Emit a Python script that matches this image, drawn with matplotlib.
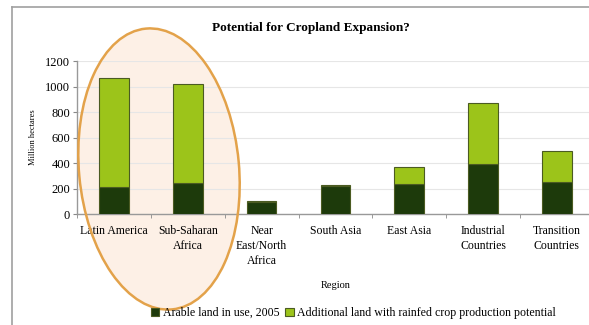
import numpy as np
import matplotlib
matplotlib.use("Agg")
import matplotlib.pyplot as plt
from matplotlib.patches import Ellipse
from matplotlib.lines import Line2D

regions = ["Latin America", "Sub-Saharan\nAfrica", "Near\nEast/North\nAfrica",
           "South Asia", "East Asia", "Industrial\nCountries", "Transition\nCountries"]
arable_2005 = [212, 245, 95, 220, 238, 392, 248]
total_potential = [1067, 1020, 105, 225, 366, 873, 494]
additional = [t - a for t, a in zip(total_potential, arable_2005)]
yticks = [0, 200, 400, 600, 800, 1000, 1200]

plt.rcParams["font.family"] = ["Liberation Serif", "DejaVu Serif"]

DARK = "#1d3a0b"
LIGHT = "#9cc41a"
EDGE = "#4b5b22"

fig = plt.figure(figsize=(5.89, 3.25), dpi=100)
ax = fig.add_axes([0.131, 0.3415, 0.877, 0.4708])
ax.set_facecolor("none")

x = np.arange(len(regions))
ax.bar(x, arable_2005, width=0.4, color=DARK, edgecolor=EDGE, linewidth=0.8, zorder=3,
       label="Arable land in use, 2005")
ax.bar(x, additional, width=0.4, bottom=arable_2005, color=LIGHT, edgecolor=EDGE,
       linewidth=0.8, zorder=3, label="Additional land with rainfed crop production potential")

ax.set_xlim(-0.5, len(regions) - 0.5)
ax.set_ylim(0, 1200)
ax.set_yticks(yticks)
ax.set_yticklabels([str(v) for v in yticks], fontsize=9)
ax.yaxis.grid(True, color="#e6e6e6", linewidth=0.8, zorder=0)
ax.axhline(1200, color="#b0b0b0", linewidth=1.2, zorder=1)

ax.set_xticks(x)
ax.set_xticklabels(regions, fontsize=8.5, linespacing=1.35)
ax.set_xticks(np.arange(-0.5, len(regions), 1), minor=True)
ax.tick_params(axis="x", which="major", length=0, pad=8)
ax.tick_params(axis="x", which="minor", length=3, color="#888888", direction="out")
ax.tick_params(axis="y", length=3, color="#888888", pad=2)

for s in ["top", "right"]:
    ax.spines[s].set_visible(False)
for s in ["left", "bottom"]:
    ax.spines[s].set_color("#999999")
    ax.spines[s].set_linewidth(1.0)

ax.set_ylabel("Million hectares", fontsize=6, labelpad=6)
ax.set_xlabel("Region", fontsize=7.5, labelpad=10)

fig.text(0.527, 0.913, "Potential for Cropland Expansion?", ha="center", va="center",
         fontsize=9.5, fontweight="bold")

fig.legend(loc="center", bbox_to_anchor=(0.60, 0.037), ncol=2, frameon=False,
           fontsize=8.6, handlelength=0.7, handleheight=0.7, handletextpad=0.3,
           columnspacing=0.5, borderaxespad=0)

# outer chart frame
fig.add_artist(Line2D([12 / 589, 12 / 589], [0, 1 - 7 / 325], color="#a0a0a0", lw=1.2))
fig.add_artist(Line2D([12 / 589, 1], [1 - 7 / 325, 1 - 7 / 325], color="#a0a0a0", lw=1.2))

# highlight ellipse (pixel coords)
W, H = 589, 325
fill = Ellipse((159, H - 169), 160, 282, angle=5.3, transform=None,
               facecolor="#fdf0e6", edgecolor="none", zorder=-1)
fig.patches.append(fill)
edge = Ellipse((159, H - 169), 160, 282, angle=5.3, transform=None,
               facecolor="none", edgecolor="#e3a24a", linewidth=1.8, zorder=5)
fig.patches.append(edge)

fig.savefig("out.png", dpi=100)
